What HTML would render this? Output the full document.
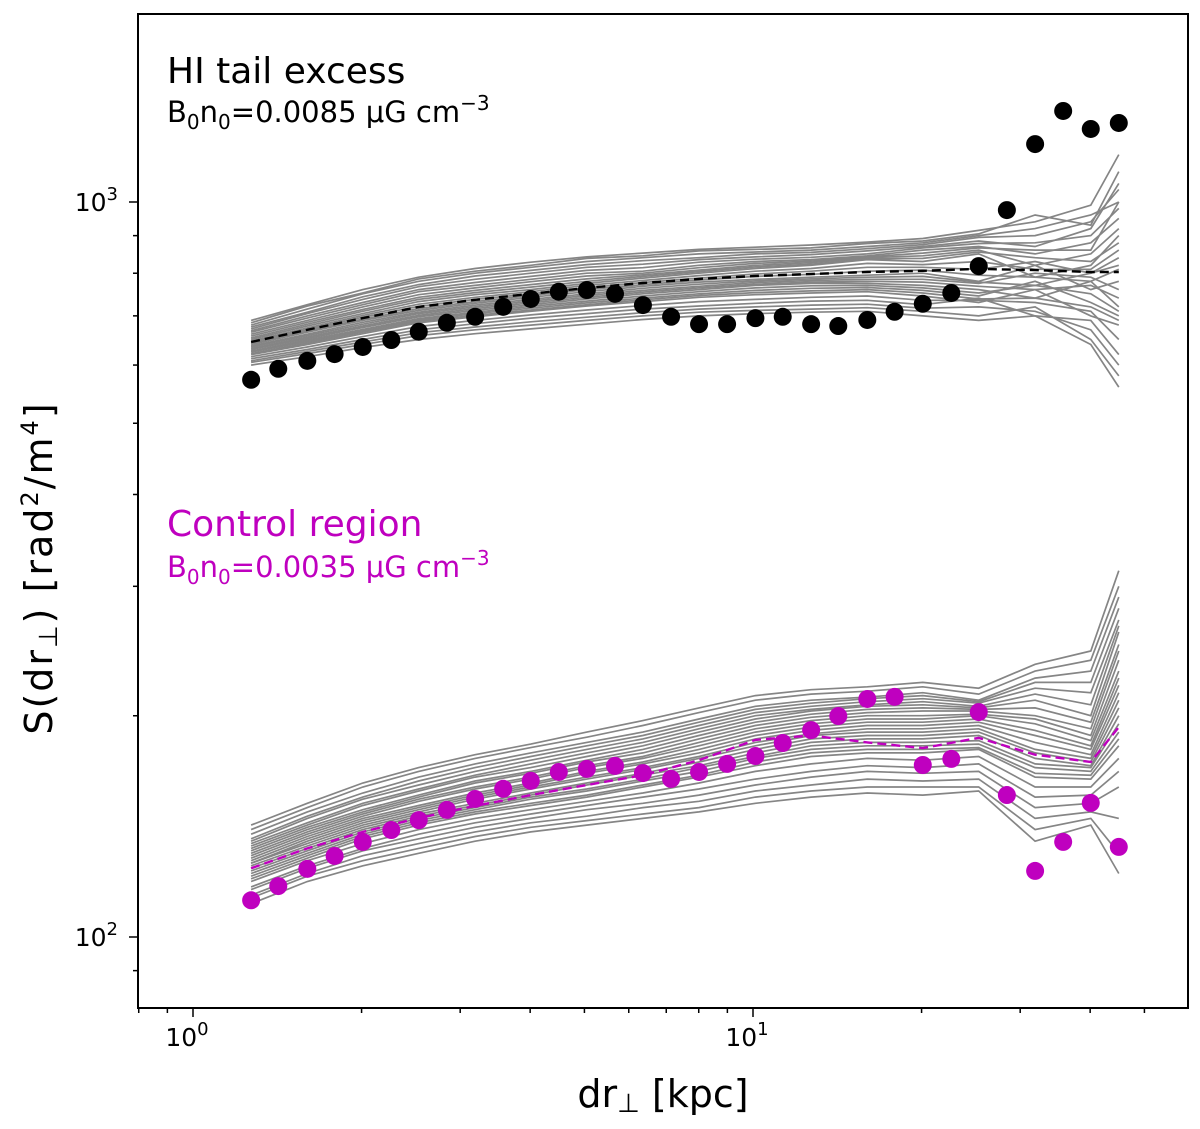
<!DOCTYPE html>
<html><head><meta charset="utf-8"><style>
html,body{margin:0;padding:0;background:#fff;}
svg text{font-family:"DejaVu Sans","Liberation Sans",sans-serif;}
</style></head><body>
<svg id="chart" width="1200" height="1124" viewBox="0 0 1200 1124" xmlns="http://www.w3.org/2000/svg">
<g id="grays"></g>
<g id="marks"></g>
<rect x="138" y="14" width="1050" height="994" fill="none" stroke="#000" stroke-width="2"/>
<g id="axes"></g>
<text x="167" y="83" font-size="36" fill="#000">HI tail excess</text>
<text x="167" y="122" font-size="29" fill="#000">B<tspan font-size="20" dy="7">0</tspan><tspan dy="-7">n</tspan><tspan font-size="20" dy="7">0</tspan><tspan dy="-7">=0.0085 μG cm</tspan><tspan font-size="20" dy="-12">−3</tspan></text>
<text x="167" y="536" font-size="36" fill="#bf00bf">Control region</text>
<text x="167" y="577" font-size="29" fill="#bf00bf">B<tspan font-size="20" dy="7">0</tspan><tspan dy="-7">n</tspan><tspan font-size="20" dy="7">0</tspan><tspan dy="-7">=0.0035 μG cm</tspan><tspan font-size="20" dy="-12">−3</tspan></text>
<text x="663" y="1107" font-size="38" text-anchor="middle">dr<tspan font-size="26" dy="5">⊥</tspan><tspan dy="-5"> [kpc]</tspan></text>
<text transform="translate(52,568) rotate(-90)" font-size="38" letter-spacing="2" text-anchor="middle">S(dr<tspan font-size="26" dy="5">⊥</tspan><tspan dy="-5">) [rad</tspan><tspan font-size="24" dy="-14">2</tspan><tspan dy="14">/m</tspan><tspan font-size="24" dy="-14">4</tspan><tspan dy="14">]</tspan></text>
</svg>
<script>
const xVals=[1.27,1.42,1.60,1.79,2.01,2.26,2.53,2.84,3.19,3.58,4.01,4.50,5.05,5.67,6.36,7.14,8.01,8.99,10.1,11.3,12.7,14.2,16.0,17.9,20.1,22.6,25.3,28.4,31.9,35.8,40.1,45.0];
const hiPoints=[573,593,608,621,635,649,666,685,698,720,738,755,759,750,724,698,682,682,695,698,682,678,691,709,727,752,818,975,1199,1330,1257,1281];
const ctrlPoints=[112.2,117.3,123.8,128.9,134.7,139.8,144.2,148.9,154.1,159.1,163.1,167.7,169.3,170.9,167.1,164.1,167.7,172.0,176.3,183.6,191.2,199.8,210.8,212.2,171.4,174.7,202.3,156.0,123.0,134.7,152.2,132.6];
const grayX=[1.27,1.60,2.01,2.53,3.19,4.01,5.05,6.36,8.01,10.1,12.7,16.0,20.1,25.3,31.9,40.1,45.0];
const hiMean=[645,670,695,720,736,750,764,776,786,793,798,803,806,811,808,803,803];
const hiSims=[
[690,725,760,790,812,828,842,852,862,868,874,882,892,915,940,990,1160],
[685,722,752,786,805,820,838,845,858,862,866,878,885,905,960,930,1100],
[680,715,750,780,800,815,830,840,850,855,860,870,880,900,920,960,1000],
[676,708,743,772,793,807,822,832,840,850,854,864,875,895,900,940,1040],
[672,705,737,767,785,800,815,823,835,842,848,858,870,885,870,920,1060],
[668,700,730,760,777,792,807,814,828,836,841,850,866,878,880,900,980],
[665,695,725,755,770,785,800,805,820,830,835,845,860,870,850,880,950],
[661,690,720,748,764,779,793,800,814,825,831,842,852,866,860,860,1000],
[657,686,714,742,758,772,786,796,808,820,827,840,845,860,820,850,920],
[653,682,710,737,753,766,780,792,804,816,823,837,838,855,840,830,880],
[650,678,705,732,748,760,775,788,800,812,820,835,830,850,790,820,900],
[647,674,701,726,742,755,770,782,794,805,812,825,822,830,810,810,860],
[645,671,697,721,737,750,764,777,788,798,805,815,815,810,830,800,840],
[642,668,693,716,732,746,760,772,783,792,797,805,808,795,790,780,810],
[640,665,690,712,728,742,755,768,778,785,790,795,800,780,820,760,780],
[637,661,686,708,724,737,750,763,773,781,786,790,792,778,770,800,820],
[635,658,682,705,720,733,746,758,768,777,782,785,785,775,800,790,760],
[632,655,678,701,716,729,742,754,764,773,778,780,778,768,760,770,740],
[630,652,675,698,712,725,738,750,760,770,775,775,770,760,740,780,720],
[627,649,671,694,708,721,733,745,755,764,769,770,764,752,770,750,710],
[625,646,668,691,705,717,729,740,750,758,763,765,758,745,780,730,700],
[622,643,665,688,701,713,725,736,746,753,757,760,752,738,740,720,690],
[620,640,662,685,698,710,722,732,742,748,752,755,745,730,760,700,680],
[616,635,656,677,690,702,713,723,732,737,742,745,735,735,730,710,650],
[612,630,650,670,683,695,705,715,722,728,733,735,725,740,700,690,620],
[608,626,645,664,676,687,697,707,715,720,724,726,717,720,710,670,600],
[605,622,640,658,670,680,690,700,708,712,715,718,710,700,720,650,580],
[600,616,634,650,662,672,682,692,700,705,708,710,700,690,700,640,560]];
const ctrlMean=[124,132,139,145.2,150.8,156,161,166,174,185.4,188,184,180.7,186.6,177,173,193];
const ctrlSims=[
[142,152,162,170,177,183,190,197,205,213,217,219,222,218,235,245,315],
[140,150,160,168,175,181,187,194,202,210,214,216,219,214,230,238,300],
[138,148,157,165,172,178,184,190,198,206,210,212,215,210,225,230,290],
[136,146,155,163,170,176,182,188,196,204,208,211,213,209,222,222,280],
[135,145,154,161,168,174,180,186,194,202,206,209,211,208,218,215,270],
[134,143,152,159,166,172,178,184,192,200,204,207,209,206,214,207,265],
[133,142,151,158,165,170,176,182,190,198,203,206,207,205,210,200,260],
[132,141,149,156,163,168,174,180,188,196,201,204,205,204,205,196,250],
[131,140,148,155,162,167,173,178,186,194,199,202,203,203,200,192,245],
[130,139,147,154,160,165,171,176,184,192,197,200,200,201,198,188,238],
[129,138,146,153,159,164,170,175,182,190,195,198,198,200,195,185,230],
[128,137,145,151,157,162,168,173,180,188,193,196,196,198,191,182,225],
[127,136,144,150,156,161,167,172,178,186,191,194,194,196,188,180,220],
[126,135,143,149,155,160,165,170,176,184,189,192,192,194,184,177,215],
[126,134,142,148,154,159,164,169,175,182,188,190,190,192,180,175,210],
[125,133,141,147,152,157,162,167,173,180,186,188,188,190,178,173,205],
[124,132,140,146,151,156,161,166,171,178,184,186,186,188,175,171,200],
[123,131,139,145,150,155,159,164,170,176,182,184,184,185,172,170,195],
[122,130,138,144,149,154,158,163,168,175,180,182,182,183,170,168,190],
[121,129,137,143,148,152,156,161,166,173,178,180,180,181,167,166,186],
[120,128,136,142,147,151,155,160,165,171,176,178,178,180,165,164,182],
[119,127,134,140,145,149,153,157,162,168,172,175,174,176,160,160,175],
[117,125,132,138,143,147,151,155,159,164,168,171,170,172,155,156,168],
[116,124,131,136,141,145,149,152,156,161,165,168,167,168,150,152,160],
[114,122,129,134,139,143,146,150,153,158,161,164,163,164,145,148,145],
[113,121,127,132,137,141,144,147,150,155,158,160,160,160,140,145,130],
[111,119,125,130,135,139,142,145,148,152,155,157,156,158,135,142,122]];
const xTickVals=[1,10];
const xTickLabels=["0","1"];
const yTickVals=[100,1000];
const yTickLabels=["2","3"];

const NS="http://www.w3.org/2000/svg";
const X0=193, XD=560, Y3=202, YD=735;
function xs(v){return X0+Math.log10(v)*XD;}
function ys(v){return Y3-(Math.log10(v)-3)*YD;}
function mk(tag,attrs,parent){const e=document.createElementNS(NS,tag);for(const k in attrs)e.setAttribute(k,attrs[k]);parent.appendChild(e);return e;}
function pathFrom(xa,ya){return xa.map((x,i)=>(i?'L':'M')+xs(x).toFixed(1)+' '+ys(ya[i]).toFixed(1)).join(' ');}
const grays=document.getElementById('grays'), marks=document.getElementById('marks'), axes=document.getElementById('axes');
hiSims.forEach(s=>{const p=mk('path',{d:pathFrom(grayX,s),fill:'none',stroke:'#858585','stroke-width':1.7},grays);

});
ctrlSims.forEach(s=>{const p=mk('path',{d:pathFrom(grayX,s),fill:'none',stroke:'#858585','stroke-width':1.7},grays);

});
let m1=mk('path',{d:pathFrom(grayX,hiMean),fill:'none',stroke:'#000','stroke-width':2.4,'stroke-dasharray':'9,5'},marks);


let m2=mk('path',{d:pathFrom(grayX,ctrlMean),fill:'none',stroke:'#bf00bf','stroke-width':2.4,'stroke-dasharray':'9,5'},marks);


hiPoints.forEach((v,i)=>{const c=mk('circle',{cx:xs(xVals[i]),cy:ys(v),r:9,fill:'#000'},marks);

});
ctrlPoints.forEach((v,i)=>{const c=mk('circle',{cx:xs(xVals[i]),cy:ys(v),r:9,fill:'#bf00bf'},marks);

});
for(let d=0.1;d<100;d*=10){for(let k=1;k<10;k++){const v=d*k;const x=xs(v);if(x<138||x>1188)continue;
const t=mk('line',{x1:x,x2:x,y1:1008,y2:1008+(k===1?9:5),stroke:'#000','stroke-width':1.5},axes);

}}
for(let d=10;d<10000;d*=10){for(let k=1;k<10;k++){const v=d*k;const y=ys(v);if(y<14||y>1008)continue;
const t=mk('line',{x1:138-(k===1?9:5),x2:138,y1:y,y2:y,stroke:'#000','stroke-width':1.5},axes);

}}
xTickVals.forEach((v,i)=>{const t=mk('text',{x:xs(v)-6,y:1046,'font-size':25,'text-anchor':'middle'},axes);


t.textContent='10';const s=mk('tspan',{'font-size':18,dy:-11},t);s.textContent=xTickLabels[i];});
yTickVals.forEach((v,i)=>{const t=mk('text',{x:118,y:ys(v)+9,'font-size':25,'text-anchor':'end'},axes);


t.textContent='10';const s=mk('tspan',{'font-size':18,dy:-11},t);s.textContent=yTickLabels[i];});
</script>
</body></html>
